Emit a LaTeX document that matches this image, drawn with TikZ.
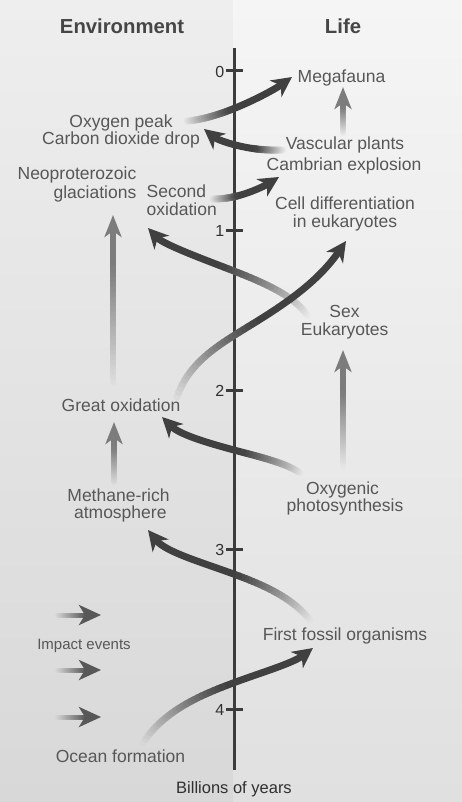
\documentclass[tikz,border=0pt]{standalone}
\usepackage{fontspec}
\setmainfont{Liberation Sans}
\usetikzlibrary{calc,arrows.meta}
\definecolor{darkarrow}{HTML}{404040}
\definecolor{midarrow}{HTML}{7C7C7C}
\definecolor{impactarrow}{HTML}{585858}
\definecolor{labelgray}{HTML}{575757}
\definecolor{headgray}{HTML}{464646}
\definecolor{tickgray}{HTML}{303030}
\definecolor{axisgray}{HTML}{3C3C3C}
\definecolor{bgLtop}{HTML}{EEEEEE}
\definecolor{bgLbot}{HTML}{D8D8D8}
\definecolor{bgRtop}{HTML}{F5F5F5}
\definecolor{bgRbot}{HTML}{E0E0E0}
\tikzset{
  darktip/.tip={Stealth[length=20pt,width=20pt,inset=6pt]},
  midtip/.tip={Stealth[length=22pt,width=17pt,inset=6pt]},
  imptip/.tip={Stealth[length=22pt,width=20pt,inset=6pt]},
}
% #1 P0 #2 P1 #3 P2 #4 P3 #5 fade fraction #6 colour #7 bg gray level #8 line style #9 tip
\newcommand\fadearrow[9]{%
  \definecolor{fabg}{gray}{#7}%
  \coordinate (fa0) at #1; \coordinate (fa1) at #2;
  \coordinate (fa2) at #3; \coordinate (fa3) at #4;
  \path (fa0) .. controls (fa1) and (fa2) .. (fa3)
    \foreach \i [evaluate=\i as \fat using \i/24*#5] in {0,...,24} {coordinate[pos=\fat] (fs\i)};
  \foreach \i [remember=\i as \j (initially 0), evaluate=\i as \pc using {int(100*(\i-0.5)/24)}] in {1,...,24} {
    \draw[#8, line cap=round, draw=#6!\pc!fabg] (fs\j) -- (fs\i);
  }
  \coordinate (fA) at ($(fa0)!#5!(fa1)$);
  \coordinate (fB) at ($(fa1)!#5!(fa2)$);
  \coordinate (fC) at ($(fa2)!#5!(fa3)$);
  \coordinate (fD) at ($(fA)!#5!(fB)$);
  \coordinate (fE) at ($(fB)!#5!(fC)$);
  \coordinate (fF) at ($(fD)!#5!(fE)$);
  \draw[#8, draw=#6, -{#9}] (fF) .. controls (fE) and (fC) .. (fa3);
}
\begin{document}
\begin{tikzpicture}[x=1pt,y=-1pt,
  lab/.style={font=\fontsize{17.5}{18}\selectfont, text=labelgray, inner sep=0pt, anchor=base},
  headlab/.style={font=\bfseries\fontsize{20.3}{22}\selectfont, text=headgray, inner sep=0pt, anchor=base},
  ticklab/.style={font=\fontsize{16}{18}\selectfont, text=tickgray, inner sep=0pt, anchor=base east},
  tickmark/.style={draw=axisgray, line width=3pt},
  darkline/.style={line width=7pt},
  midline/.style={line width=5.5pt},
  impline/.style={line width=5pt},
]
\useasboundingbox (0,0) rectangle (462,802);
\shade[top color=bgLtop, bottom color=bgLbot] (0,0) rectangle (233.5,802);
\shade[top color=bgRtop, bottom color=bgRbot] (233.5,0) rectangle (462,802);

% axis
\coordinate (axtop) at (234.5,48);
\coordinate (axbot) at (234.5,770);
\draw[draw=axisgray, line width=3.5pt] (axtop) -- (axbot);
\foreach \v/\yy in {0/71,0.5/150.8,1/230.6,1.5/310.4,2/390.2,2.5/470,3/549.8,3.5/629.6,4/709.4} {
  \coordinate (tl\v) at (226,\yy);
  \coordinate (tr\v) at (243,\yy);
  \draw[tickmark] (tl\v) -- (tr\v);
}
\node[ticklab] (t0) at (224.5,77.3) {0};
\node[ticklab] (t1) at (224.5,236.6) {1};
\node[ticklab] (t2) at (224.5,396.2) {2};
\node[ticklab] (t3) at (224.5,555.8) {3};
\node[ticklab] (t4) at (224.5,715.4) {4};

% headers
\node[headlab] (env) at (122,33.3) {Environment};
\node[headlab] (life) at (343,33.3) {Life};

% labels
\node[lab] (mega) at (341.5,83) {Megafauna};
\node[lab] (oxy1) at (121,127.3) {Oxygen peak};
\node[lab] (oxy2) at (121,145) {Carbon dioxide drop};
\node[lab] (vasc1) at (345,150) {Vascular plants};
\node[lab] (vasc2) at (344,170.7) {Cambrian explosion};
\node[lab, anchor=base east] (neo1) at (136.5,180) {Neoproterozoic};
\node[lab, anchor=base east] (neo2) at (136.5,199) {glaciations};
\node[lab, anchor=base west] (sec1) at (146.5,197.3) {Second};
\node[lab, anchor=base west] (sec2) at (146.5,215) {oxidation};
\node[lab] (cell1) at (345,210) {Cell differentiation};
\node[lab] (cell2) at (345,228) {in eukaryotes};
\node[lab] (sex1) at (344.5,317.3) {Sex};
\node[lab] (sex2) at (344.7,335) {Eukaryotes};
\node[lab] (great) at (121,411.7) {Great oxidation};
\node[lab] (meth1) at (118.5,501.7) {Methane-rich};
\node[lab] (meth2) at (120.3,518.3) {atmosphere};
\node[lab] (oxyg1) at (342.5,494.3) {Oxygenic};
\node[lab] (oxyg2) at (345,511.7) {photosynthesis};
\node[lab, font=\fontsize{15}{17}\selectfont] (impact) at (84,649) {Impact events};
\node[lab] (fossil) at (345,640) {First fossil organisms};
\node[lab] (ocean) at (120.5,762.7) {Ocean formation};
\node[lab, text=tickgray, font=\fontsize{16.5}{18}\selectfont] (billions) at (234,793.3) {Billions of years};

% vertical gray arrows
\fadearrow{(343,134)}{(343,119)}{(343,102)}{(343,87)}{0.6}{midarrow}{0.94}{midline}{midtip}
\fadearrow{(113,382)}{(113,326)}{(113,271)}{(113,215)}{0.7}{midarrow}{0.875}{midline}{midtip}
\fadearrow{(114,482)}{(114,462)}{(114,442)}{(114,422)}{0.6}{midarrow}{0.86}{midline}{midtip}
\fadearrow{(343,467)}{(343,428)}{(343,389)}{(343,350)}{0.65}{midarrow}{0.91}{midline}{midtip}

% impact arrows
\fadearrow{(57,615)}{(72,615)}{(86,615)}{(101,615)}{0.7}{impactarrow}{0.86}{impline}{imptip}
\fadearrow{(57,670)}{(72,670)}{(86,670)}{(101,670)}{0.7}{impactarrow}{0.86}{impline}{imptip}
\fadearrow{(57,717)}{(72,717)}{(86,717)}{(101,717)}{0.7}{impactarrow}{0.855}{impline}{imptip}

% dark curved arrows
\fadearrow{(187,121)}{(215,119)}{(260,100)}{(292,77)}{0.45}{darkarrow}{0.91}{darkline}{darktip}
\fadearrow{(283,150)}{(255,151)}{(225,146)}{(204,129)}{0.35}{darkarrow}{0.94}{darkline}{darktip}
\fadearrow{(213,199)}{(235,199)}{(255,192)}{(279,177)}{0.4}{darkarrow}{0.9}{darkline}{darktip}
\fadearrow{(307,315)}{(280,275)}{(180,262)}{(148,228)}{0.55}{darkarrow}{0.925}{darkline}{darktip}
\fadearrow{(177,397)}{(200,330)}{(285,330)}{(346,241)}{0.55}{darkarrow}{0.87}{darkline}{darktip}
\fadearrow{(300,473)}{(270,452)}{(195,450)}{(162,417)}{0.45}{darkarrow}{0.91}{darkline}{darktip}
\fadearrow{(310,620)}{(270,570)}{(180,570)}{(148,530)}{0.45}{darkarrow}{0.9}{darkline}{darktip}
\fadearrow{(143,743)}{(180,685)}{(270,680)}{(313,648)}{0.5}{darkarrow}{0.855}{darkline}{darktip}
\end{tikzpicture}
\end{document}
